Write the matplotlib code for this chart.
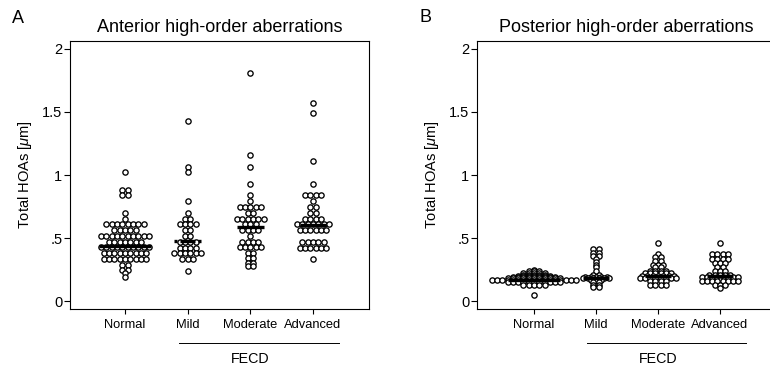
import numpy as np
import matplotlib
matplotlib.use("Agg")
import matplotlib.pyplot as plt
from matplotlib.transforms import blended_transform_factory

plt.rcParams['font.family'] = ['Liberation Sans', 'DejaVu Sans']
plt.rcParams['mathtext.fontset'] = 'custom'
plt.rcParams['mathtext.it'] = 'Liberation Sans:italic'
plt.rcParams['mathtext.rm'] = 'Liberation Sans'

# ---------------- data ----------------
categories = ["Normal", "Mild", "Moderate", "Advanced"]
group_label = "FECD"
yticks = [0, 0.5, 1, 1.5, 2]
ytick_labels = ["0", ".5", "1", "1.5", "2"]
titles = ["Anterior high-order aberrations", "Posterior high-order aberrations"]
panel_letters = ["A", "B"]
ylabel = r"Total HOAs [$\mu$m]"

# Anterior: binned values and number of eyes per bin
ant_normal_vals = [1.02, 0.88, 0.84, 0.70, 0.65, 0.61, 0.56, 0.52, 0.47, 0.43, 0.38, 0.33, 0.29, 0.25, 0.22, 0.19]
ant_normal_cnts = [1, 2, 2, 1, 1, 8, 5, 10, 7, 10, 9, 9, 2, 2, 1, 1]
ant_mild_vals = [1.43, 1.06, 1.02, 0.79, 0.70, 0.65, 0.61, 0.56, 0.52, 0.47, 0.42, 0.38, 0.33, 0.24]
ant_mild_cnts = [1, 1, 1, 1, 1, 2, 4, 2, 2, 4, 4, 6, 3, 1]
ant_moderate_vals = [1.81, 1.16, 1.06, 0.93, 0.84, 0.79, 0.75, 0.70, 0.65, 0.61, 0.56, 0.52, 0.47, 0.43, 0.38, 0.34, 0.30, 0.28]
ant_moderate_cnts = [1, 1, 1, 1, 1, 1, 5, 2, 6, 3, 4, 1, 4, 5, 2, 2, 2, 2]
ant_advanced_vals = [1.57, 1.49, 1.11, 0.93, 0.84, 0.79, 0.75, 0.70, 0.65, 0.61, 0.56, 0.47, 0.42, 0.33]
ant_advanced_cnts = [1, 1, 1, 1, 4, 1, 2, 2, 4, 7, 6, 5, 6, 1]
ant_medians = [0.44, 0.475, 0.59, 0.60]

# Posterior
post_normal_vals = [0.25, 0.24, 0.22, 0.21, 0.20, 0.19, 0.18, 0.17, 0.15, 0.13, 0.05]
post_normal_cnts = [1, 3, 5, 5, 7, 9, 11, 17, 11, 5, 1]
post_mild_vals = [0.41, 0.38, 0.36, 0.33, 0.31, 0.29, 0.27, 0.24, 0.21, 0.19, 0.18, 0.17, 0.15, 0.13, 0.11]
post_mild_cnts = [2, 2, 2, 1, 1, 1, 1, 1, 2, 5, 6, 3, 2, 2, 2]
post_moderate_vals = [0.46, 0.37, 0.35, 0.32, 0.29, 0.27, 0.24, 0.22, 0.20, 0.18, 0.16, 0.13]
post_moderate_cnts = [1, 1, 2, 2, 3, 2, 4, 6, 7, 8, 4, 4]
post_advanced_vals = [0.46, 0.37, 0.33, 0.30, 0.27, 0.24, 0.21, 0.19, 0.17, 0.16, 0.13, 0.10]
post_advanced_cnts = [1, 4, 4, 3, 2, 3, 5, 8, 1, 8, 3, 1]
post_medians = [0.17, 0.18, 0.20, 0.195]

# ---------------- style ----------------
DOT_SPACING = 0.085
MEDIAN_HALF = [0.42, 0.22, 0.22, 0.21]
POST_MEDIAN_HALF = [0.42, 0.21, 0.21, 0.21]

fig = plt.figure(figsize=(7.7, 3.72), dpi=100)
axA = fig.add_axes([70 / 770, 63 / 372, 299 / 770, 268 / 372])
axB = fig.add_axes([477 / 770, 63 / 372, 299 / 770, 268 / 372])


def draw_panel(ax, groups, medians, halves, xlim, dashed_idx=None):
    for i, (vals, cnts) in enumerate(groups):
        xc = i + 1
        xs, ys = [], []
        for v, n in zip(vals, cnts):
            offs = (np.arange(n) - (n - 1) / 2) * DOT_SPACING
            xs.extend(xc + offs)
            ys.extend([v] * n)
        ax.plot(xs, ys, linestyle='none', marker='o', ms=3.8, mew=0.95,
                mfc='white', mec='black', zorder=3)
        h = halves[i]
        if dashed_idx is not None and i == dashed_idx:
            ax.plot([xc - h, xc - h + 0.05], [medians[i]] * 2, color='black', lw=2.4,
                    solid_capstyle='butt', zorder=4)
            ax.plot([xc + h - 0.05, xc + h], [medians[i]] * 2, color='black', lw=2.4,
                    solid_capstyle='butt', zorder=4)
            ax.plot([xc - h * 0.55, xc + h * 0.55], [medians[i]] * 2, color='black', lw=2.4,
                    solid_capstyle='butt', zorder=4)
        else:
            ax.plot([xc - h, xc + h], [medians[i]] * 2, color='black', lw=2.4,
                    solid_capstyle='butt', zorder=4)
    ax.set_xlim(*xlim)
    ax.set_ylim(-0.063, 2.063)
    ax.set_yticks(yticks)
    ax.set_yticklabels(ytick_labels)
    ax.set_xticks(range(1, len(categories) + 1))
    ax.set_xticklabels(categories)
    ax.tick_params(axis='y', direction='out', length=4, width=0.8, pad=1.5, labelsize=10.5)
    ax.tick_params(axis='x', direction='out', length=3.5, width=0.8, pad=3.5, labelsize=9.3)
    for s in ax.spines.values():
        s.set_linewidth(0.8)
    tr = blended_transform_factory(ax.transData, ax.transAxes)
    ax.plot([1.86, 4.42], [-0.127, -0.127], color='black', lw=0.7, transform=tr, clip_on=False)
    ax.text(3.0, -0.2015, group_label, transform=tr, ha='center', va='baseline', fontsize=10.3)


draw_panel(axA,
           [(ant_normal_vals, ant_normal_cnts), (ant_mild_vals, ant_mild_cnts),
            (ant_moderate_vals, ant_moderate_cnts), (ant_advanced_vals, ant_advanced_cnts)],
           ant_medians, MEDIAN_HALF, (0.122, 4.894), dashed_idx=1)
draw_panel(axB,
           [(post_normal_vals, post_normal_cnts), (post_mild_vals, post_mild_cnts),
            (post_moderate_vals, post_moderate_cnts), (post_advanced_vals, post_advanced_cnts)],
           post_medians, POST_MEDIAN_HALF, (0.081, 4.904))

for ax, t in zip([axA, axB], titles):
    ax.set_title(t, fontsize=13, pad=6.5)

fig.text(25 / 770, 1 - 175 / 372, ylabel, rotation=90, ha='center', va='center', fontsize=10.5)
fig.text(432 / 770, 1 - 175 / 372, ylabel, rotation=90, ha='center', va='center', fontsize=10.5)
fig.text(12 / 770, 1 - 23 / 372, panel_letters[0], ha='left', va='baseline', fontsize=13)
fig.text(420 / 770, 1 - 22 / 372, panel_letters[1], ha='left', va='baseline', fontsize=13)

fig.savefig("out.png", dpi=100)
